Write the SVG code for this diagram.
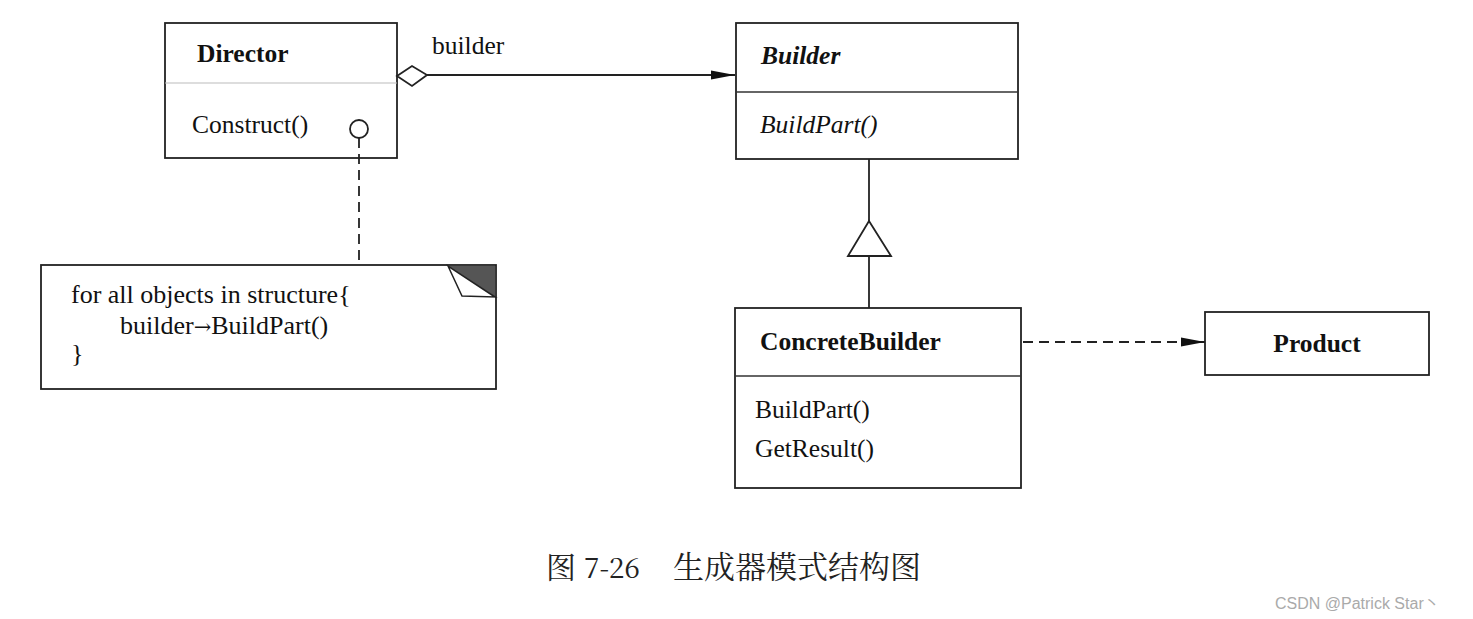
<svg xmlns="http://www.w3.org/2000/svg" width="1473" height="619" viewBox="0 0 1473 619">
<style>
.box{fill:#fff;stroke:#222;stroke-width:1.8}
.div{stroke:#333;stroke-width:1.6}
.t{font-family:"Liberation Serif","Times New Roman",serif;font-size:25.5px;fill:#111}
.n{font-size:26px}
.b{font-weight:bold}
.i{font-style:italic}
.ln{stroke:#222;stroke-width:1.8;fill:none}
.dash{stroke-dasharray:10 6}
.cj{font-family:"Noto Serif CJK SC","Noto Sans CJK SC",sans-serif;fill:#222}
</style>
<defs>
<marker id="arr" viewBox="0 0 24 12" refX="24" refY="6" markerWidth="24" markerHeight="12" markerUnits="userSpaceOnUse" orient="auto">
<path d="M0,1.5 L24,6 L0,10.5 Z" fill="#111"/>
</marker>
</defs>
<rect width="1473" height="619" fill="#fff"/>
<g id="director">
<rect class="box" x="165" y="23" width="232" height="135"/>
<line x1="165" y1="83" x2="397" y2="83" stroke="#bbb" stroke-width="1.2"/>
<text class="t b" x="197" y="62">Director</text>
<text class="t" x="192" y="133">Construct()</text>
</g>
<g id="note">
<rect class="box" x="41" y="265" width="455" height="124"/>
<polygon points="448,266 495,266 495,297" fill="#555"/>
<polygon points="448,266 462,296 495,297" fill="#fff" stroke="#222" stroke-width="1.5"/>
<text class="t n" x="71" y="303">for all objects in structure{</text>
<text class="t n" x="120" y="334">builder<tspan font-family="'DejaVu Serif',serif" font-size="21">→</tspan>BuildPart()</text>
<text class="t n" x="71" y="362">}</text>
</g>
<g id="builder">
<rect class="box" x="736" y="23" width="282" height="136"/>
<line class="div" x1="736" y1="92" x2="1018" y2="92"/>
<text class="t b i" x="761" y="64">Builder</text>
<text class="t i" x="760" y="133">BuildPart()</text>
</g>
<g id="concretebuilder">
<rect class="box" x="735" y="308" width="286" height="180"/>
<line class="div" x1="735" y1="376" x2="1021" y2="376"/>
<text class="t b" x="760" y="350">ConcreteBuilder</text>
<text class="t" x="755" y="418">BuildPart()</text>
<text class="t" x="755" y="457">GetResult()</text>
</g>
<g id="product">
<rect class="box" x="1205" y="312" width="224" height="63"/>
<text class="t b" x="1317" y="352" text-anchor="middle">Product</text>
</g>
<g id="connectors">
<line class="ln" x1="427" y1="75" x2="735" y2="75" marker-end="url(#arr)"/>
<polygon points="397,76 412,66 427,75 412,86" fill="#fff" stroke="#222" stroke-width="1.8"/>
<line class="ln dash" x1="359" y1="138" x2="359" y2="265"/>
<circle cx="359" cy="129" r="9" fill="#fff" stroke="#222" stroke-width="1.8"/>
<line class="ln" x1="869" y1="159" x2="869" y2="222"/>
<polygon points="869,221 891,256 848,256" fill="#fff" stroke="#222" stroke-width="1.8"/>
<line class="ln" x1="869" y1="256" x2="869" y2="308"/>
<line class="ln dash" x1="1023" y1="342" x2="1205" y2="342" marker-end="url(#arr)"/>
<text class="t" x="432" y="54">builder</text>
</g>
<g id="caption">
<text class="cj" x="546" y="578" font-size="30">图</text>
<text class="cj" x="584" y="578" font-size="28">7-26</text>
<text class="cj" x="673" y="578" font-size="31">生成器模式结构图</text>
</g>
<text x="1275" y="609" font-family="'Liberation Sans','Noto Sans CJK SC',sans-serif" font-size="16" fill="#aaa">CSDN @Patrick Star丶</text>
</svg>
